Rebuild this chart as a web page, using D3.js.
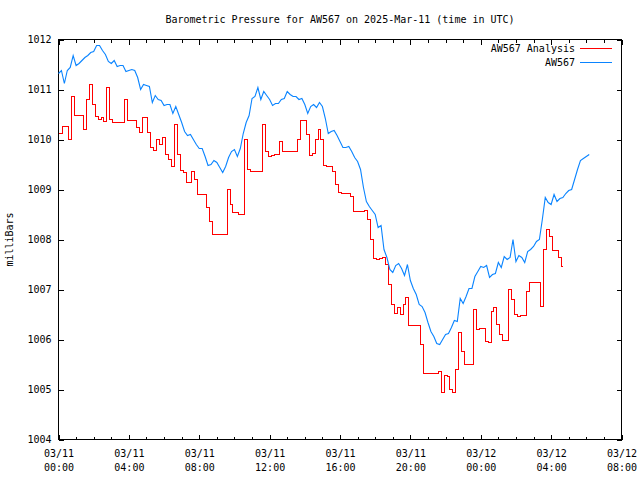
<!DOCTYPE html>
<html><head><meta charset="utf-8">
<script src="https://cdn.jsdelivr.net/npm/d3@7"></script>
<style>
body{margin:0;background:#fff}
svg{display:block}
text{font-family:"DejaVu Sans Mono",monospace;font-size:10px;fill:#000}
</style>
</head><body>
<svg id="chart" width="640" height="480"></svg>
<script>
// ---- data ----
const chartTitle = "Barometric Pressure for AW567 on 2025-Mar-11 (time in UTC)";
const yAxisLabel = "milliBars";
const seriesNames = ["AW567 Analysis", "AW567"];
const yTickValues = [1004, 1005, 1006, 1007, 1008, 1009, 1010, 1011, 1012];
const timeStart = "2025-03-11T00:00:00Z";
const timeEnd = "2025-03-12T08:00:00Z";
const sampleMinutes = 10;

const analysisValues = [
1010.12,1010.12,1010.26,1010.26,1010.00,1010.86,1010.48,1010.48,1010.48,1010.20,
1010.80,1011.10,1010.70,1010.46,1010.40,1010.44,1010.36,1011.04,1010.40,1010.34,
1010.34,1010.34,1010.34,1010.80,1010.38,1010.38,1010.38,1010.24,1010.14,1010.44,
1010.44,1010.14,1009.84,1009.78,1010.00,1009.90,1010.04,1009.70,1009.60,1009.46,
1010.30,1009.70,1009.38,1009.34,1009.15,1009.15,1009.36,1009.21,1008.91,1008.91,
1008.91,1008.65,1008.37,1008.11,1008.11,1008.11,1008.11,1008.11,1009.01,1008.71,
1008.55,1008.55,1008.51,1008.51,1010.00,1009.40,1009.36,1009.36,1009.36,1009.36,
1010.30,1009.76,1009.66,1009.68,1009.70,1009.70,1009.96,1009.76,1009.76,1009.76,
1009.76,1009.76,1010.00,1010.38,1010.38,1010.10,1009.68,1009.72,1010.00,1010.20,
1010.00,1009.48,1009.46,1009.46,1009.36,1009.11,1008.95,1008.93,1008.93,1008.93,
1008.87,1008.57,1008.57,1008.57,1008.57,1008.59,1008.41,1008.01,1007.63,1007.61,
1007.63,1007.65,1007.51,1007.11,1006.71,1006.53,1006.65,1006.51,1006.71,1006.85,
1006.29,1006.29,1006.29,1006.29,1005.91,1005.33,1005.33,1005.33,1005.33,1005.33,
1005.37,1004.95,1005.29,1005.27,1005.01,1004.95,1005.41,1006.15,1005.77,1005.51,
1005.51,1005.51,1006.61,1006.21,1006.23,1006.23,1005.97,1005.95,1006.57,1006.65,
1006.31,1006.11,1005.99,1005.99,1007.01,1006.81,1006.51,1006.47,1006.49,1006.49,
1006.97,1007.15,1007.15,1007.15,1007.15,1006.66,1007.81,1008.21,1008.07,1007.79,
1007.79,1007.65,1007.47
];

const stationValues = [
1011.32,1011.38,1011.12,1011.38,1011.44,1011.68,1011.48,1011.52,1011.58,1011.64,
1011.68,1011.74,1011.76,1011.88,1011.88,1011.78,1011.70,1011.56,1011.52,1011.58,
1011.46,1011.48,1011.48,1011.36,1011.38,1011.40,1011.38,1011.24,1011.00,1011.10,
1011.08,1011.06,1010.74,1010.88,1010.80,1010.78,1010.68,1010.70,1010.70,1010.52,
1010.66,1010.50,1010.34,1010.16,1010.08,1010.10,1010.00,1009.90,1009.82,1009.82,
1009.66,1009.48,1009.50,1009.58,1009.54,1009.44,1009.34,1009.46,1009.64,1009.76,
1009.80,1009.66,1009.82,1010.12,1010.34,1010.48,1010.82,1010.86,1011.04,1010.80,
1010.96,1010.88,1010.80,1010.68,1010.72,1010.72,1010.80,1010.82,1010.96,1010.90,
1010.86,1010.86,1010.80,1010.82,1010.70,1010.52,1010.66,1010.70,1010.64,1010.74,
1010.66,1010.42,1010.12,1010.16,1010.18,1010.08,1009.96,1009.84,1009.84,1009.86,
1009.76,1009.64,1009.56,1009.40,1009.04,1008.76,1008.66,1008.58,1008.50,1008.24,
1008.28,1007.80,1007.64,1007.40,1007.34,1007.48,1007.52,1007.42,1007.28,1007.50,
1007.18,1007.02,1006.90,1006.70,1006.66,1006.54,1006.34,1006.16,1006.06,1005.92,
1005.90,1006.00,1006.10,1006.12,1006.24,1006.38,1006.36,1006.82,1006.72,1006.86,
1007.02,1007.02,1007.26,1007.36,1007.46,1007.44,1007.48,1007.24,1007.30,1007.32,
1007.54,1007.44,1007.66,1007.60,1007.64,1008.00,1007.56,1007.68,1007.64,1007.54,
1007.76,1007.80,1007.86,1007.96,1008.00,1008.40,1008.84,1008.74,1008.70,1008.90,
1008.76,1008.82,1008.84,1008.92,1008.98,1009.00,1009.20,1009.40,1009.58,1009.62,
1009.66,1009.70
];

// ---- layout / style ----
const W = 640, H = 480;
const plot = {left: 58.5, right: 621.5, top: 39.5, bottom: 439.5};
const colors = {analysis: "#ff0000", station: "#0a84ff"};

const svg = d3.select("#chart");
svg.append("rect").attr("width", W).attr("height", H).attr("fill", "#fff");

const t0 = new Date(timeStart), t1 = new Date(timeEnd);
const x = d3.scaleUtc().domain([t0, t1]).range([plot.left, plot.right]);
const y = d3.scaleLinear().domain([1004, 1012]).range([plot.bottom, plot.top]);

const timeAt = i => new Date(t0.getTime() + i * sampleMinutes * 60000);
const analysisData = analysisValues.map((v, i) => ({t: timeAt(i), v}));
const stationData = stationValues.map((v, i) => ({t: timeAt(i), v}));

const majorTicks = d3.utcHour.every(4).range(t0, new Date(t1.getTime() + 1));
const minorTicks = d3.utcHour.every(1).range(t0, new Date(t1.getTime() + 1));

// minor ticks bottom and top
svg.append("g").attr("transform", `translate(0,${plot.bottom})`)
  .call(d3.axisBottom(x).tickValues(minorTicks).tickSize(-3).tickFormat(""))
  .call(g => g.select(".domain").remove());
svg.append("g").attr("transform", `translate(0,${plot.top})`)
  .call(d3.axisTop(x).tickValues(minorTicks).tickSize(-3).tickFormat(""))
  .call(g => g.select(".domain").remove());

// major ticks bottom (with labels) and top
const fmtDate = d3.utcFormat("%m/%d"), fmtTime = d3.utcFormat("%H:%M");
const xAxisG = svg.append("g").attr("transform", `translate(0,${plot.bottom})`)
  .call(d3.axisBottom(x).tickValues(majorTicks).tickSize(-5).tickPadding(0).tickFormat(fmtDate));
xAxisG.select(".domain").remove();
xAxisG.selectAll(".tick text").each(function(d) {
  const t = d3.select(this);
  t.text(null).attr("y", 0).attr("dy", null);
  t.append("tspan").attr("x", 0).attr("y", 17).text(fmtDate(d));
  t.append("tspan").attr("x", 0).attr("y", 31).text(fmtTime(d));
});
svg.append("g").attr("transform", `translate(0,${plot.top})`)
  .call(d3.axisTop(x).tickValues(majorTicks).tickSize(-5).tickFormat(""))
  .call(g => g.select(".domain").remove());

// y axes
const yAxisG = svg.append("g").attr("transform", `translate(${plot.left},0)`)
  .call(d3.axisLeft(y).tickValues(yTickValues).tickSize(-5).tickPadding(7).tickFormat(d3.format("d")));
yAxisG.select(".domain").remove();
svg.append("g").attr("transform", `translate(${plot.right},0)`)
  .call(d3.axisRight(y).tickValues(yTickValues).tickSize(-5).tickFormat(""))
  .call(g => g.select(".domain").remove());

svg.selectAll(".tick line").attr("stroke", "#000").attr("shape-rendering", "crispEdges");
svg.selectAll(".tick text").attr("fill", "#000")
  .style("font-family", '"DejaVu Sans Mono",monospace').style("font-size", "10px");

// frame
svg.append("rect")
  .attr("x", plot.left).attr("y", plot.top)
  .attr("width", plot.right - plot.left).attr("height", plot.bottom - plot.top)
  .attr("fill", "none").attr("stroke", "#000").attr("shape-rendering", "crispEdges");

// lines
svg.append("path").datum(analysisData)
  .attr("d", d3.line().x(d => x(d.t)).y(d => y(d.v)).curve(d3.curveStep))
  .attr("fill", "none").attr("stroke", colors.analysis).attr("stroke-width", 1)
  .attr("shape-rendering", "crispEdges");
svg.append("path").datum(stationData)
  .attr("d", d3.line().x(d => x(d.t)).y(d => y(d.v)))
  .attr("fill", "none").attr("stroke", colors.station).attr("stroke-width", 1.1);

// title
svg.append("text").attr("x", (plot.left + plot.right) / 2).attr("y", 23)
  .attr("text-anchor", "middle").text(chartTitle);

// y label
svg.append("text").attr("transform", `translate(13,${(plot.top + plot.bottom) / 2}) rotate(-90)`)
  .attr("text-anchor", "middle").text(yAxisLabel);

// legend
const legend = [
  {name: seriesNames[0], color: colors.analysis, yy: 48.5},
  {name: seriesNames[1], color: colors.station, yy: 62.5}
];
legend.forEach(l => {
  svg.append("text").attr("x", 575).attr("y", l.yy + 3.5).attr("text-anchor", "end").text(l.name);
  svg.append("line").attr("x1", 580).attr("x2", 612).attr("y1", l.yy).attr("y2", l.yy)
    .attr("stroke", l.color).attr("stroke-width", 1).attr("shape-rendering", "crispEdges");
});
</script>
</body></html>
